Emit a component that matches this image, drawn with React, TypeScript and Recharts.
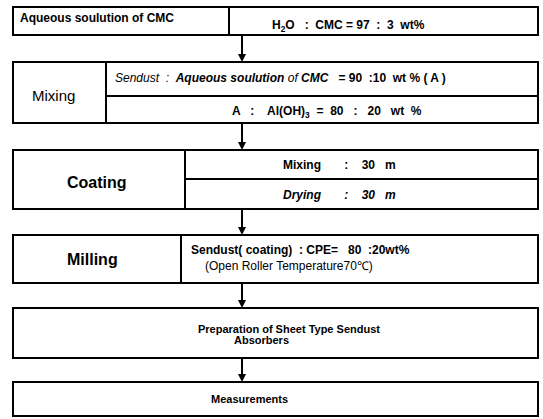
import React from "react";
import {
  ComposedChart,
  XAxis,
  YAxis,
  Scatter,
  ReferenceArea,
  ReferenceLine,
  ReferenceDot,
} from "recharts";

// Flow-chart boxes (in picture units: x 0..543, y 0..419 from top)
const BOXES = [
  { id: "cmc", x1: 13, x2: 538, y1: 7, y2: 35 },
  { id: "mixing", x1: 13, x2: 538, y1: 62, y2: 123 },
  { id: "coating", x1: 13, x2: 538, y1: 150, y2: 209 },
  { id: "milling", x1: 13, x2: 538, y1: 235, y2: 283 },
  { id: "prep", x1: 13, x2: 538, y1: 308, y2: 358 },
  { id: "meas", x1: 13, x2: 538, y1: 382, y2: 416 },
];

const DIVIDERS = [
  { x1: 229, x2: 229, y1: 7, y2: 35 },
  { x1: 106, x2: 106, y1: 62, y2: 123 },
  { x1: 106, x2: 538, y1: 96, y2: 96 },
  { x1: 185, x2: 185, y1: 150, y2: 209 },
  { x1: 185, x2: 538, y1: 179, y2: 179 },
  { x1: 181, x2: 181, y1: 235, y2: 283 },
];

const ARROWS = [
  { x: 242, y1: 35, y2: 62 },
  { x: 242, y1: 123, y2: 150 },
  { x: 242, y1: 209, y2: 235 },
  { x: 242, y1: 283, y2: 308 },
  { x: 242, y1: 358, y2: 382 },
];

type Part = { t: string; sub?: boolean; italic?: boolean; bold?: boolean };
type Lbl = { x: number; y: number; size: number; bold?: boolean; parts: Part[] };

const LABELS: Lbl[] = [
  { x: 20, y: 22, size: 12, bold: true, parts: [{ t: "Aqueous soulution of CMC" }] },
  {
    x: 272, y: 29, size: 12, bold: true,
    parts: [{ t: "H" }, { t: "2", sub: true }, { t: "O   :  CMC = 97  :  3  wt%" }],
  },
  { x: 32, y: 101, size: 15, parts: [{ t: "Mixing" }] },
  {
    x: 115, y: 82, size: 12, bold: true,
    parts: [
      { t: "Sendust  :  ", italic: true, bold: false },
      { t: "Aqueous soulution ", italic: true },
      { t: "of ", italic: true, bold: false },
      { t: "CMC", italic: true },
      { t: "   = 90  :10  wt % ( A )" },
    ],
  },
  {
    x: 232, y: 115, size: 12, bold: true,
    parts: [{ t: "A   :    Al(OH)" }, { t: "3", sub: true }, { t: "  =  80   :   20   wt  %" }],
  },
  { x: 67, y: 188, size: 16, bold: true, parts: [{ t: "Coating" }] },
  { x: 283, y: 169, size: 12, bold: true, parts: [{ t: "Mixing       :    30   m" }] },
  { x: 283, y: 199, size: 12, bold: true, parts: [{ t: "Drying       :    30   m", italic: true }] },
  { x: 67, y: 265, size: 16, bold: true, parts: [{ t: "Milling" }] },
  { x: 191, y: 254, size: 12, bold: true, parts: [{ t: "Sendust( coating)  : CPE=   80  :20wt%" }] },
  { x: 205, y: 270, size: 12, parts: [{ t: "(Open Roller Temperature70\u2103)" }] },
  { x: 198, y: 333, size: 11, bold: true, parts: [{ t: "Preparation of Sheet Type Sendust" }] },
  { x: 234, y: 344, size: 11, bold: true, parts: [{ t: "Absorbers" }] },
  { x: 211, y: 403, size: 11, bold: true, parts: [{ t: "Measurements" }] },
];

const FONT = "'Liberation Sans', Arial, sans-serif";

const renderLabel = (props: any) => {
  const { cx, cy, payload } = props;
  const lbl: Lbl = payload;
  let shifted = false;
  const spans: React.ReactNode[] = [];
  lbl.parts.forEach((p, i) => {
    let dy: number | undefined = undefined;
    if (p.sub && !shifted) {
      dy = 3;
      shifted = true;
    } else if (!p.sub && shifted) {
      dy = -3;
      shifted = false;
    }
    const weight = p.bold === undefined ? (lbl.bold ? "bold" : "normal") : p.bold ? "bold" : "normal";
    spans.push(
      <tspan
        key={i}
        dy={dy}
        fontSize={p.sub ? lbl.size * 0.7 : lbl.size}
        fontStyle={p.italic ? "italic" : "normal"}
        fontWeight={weight}
      >
        {p.t}
      </tspan>
    );
  });
  return (
    <text
      x={cx}
      y={cy}
      fontFamily={FONT}
      fontSize={lbl.size}
      fill="#000"
      style={{ whiteSpace: "pre" }}
    >
      {spans}
    </text>
  );
};

const arrowHead = (props: any) => {
  const { cx, cy } = props;
  return <polygon points={`${cx - 4},${cy - 8} ${cx + 4},${cy - 8} ${cx},${cy}`} fill="#000" />;
};

export default function App() {
  return (
    <div style={{ position: "absolute", left: 0, top: 0, width: 543, height: 419, background: "#fff" }}>
      <ComposedChart width={543} height={419} margin={{ top: 0, right: 0, bottom: 0, left: 0 }}>
        <XAxis type="number" dataKey="x" domain={[0, 543]} hide allowDataOverflow />
        <YAxis type="number" dataKey="y" domain={[0, 419]} reversed hide allowDataOverflow />
        {BOXES.map((b) => (
          <ReferenceArea
            key={b.id}
            x1={b.x1}
            x2={b.x2}
            y1={b.y1}
            y2={b.y2}
            fill="none"
            fillOpacity={0}
            stroke="#000"
            strokeWidth={2}
            strokeOpacity={1}
          />
        ))}
        {DIVIDERS.map((d, i) => (
          <ReferenceLine
            key={"d" + i}
            segment={[
              { x: d.x1, y: d.y1 },
              { x: d.x2, y: d.y2 },
            ]}
            stroke="#000"
            strokeWidth={2}
          />
        ))}
        {ARROWS.map((a, i) => (
          <ReferenceLine
            key={"a" + i}
            segment={[
              { x: a.x, y: a.y1 },
              { x: a.x, y: a.y2 - 4 },
            ]}
            stroke="#000"
            strokeWidth={2}
          />
        ))}
        {ARROWS.map((a, i) => (
          <ReferenceDot key={"h" + i} x={a.x} y={a.y2} r={4} shape={arrowHead} />
        ))}
        <Scatter data={LABELS} dataKey="y" shape={renderLabel} isAnimationActive={false} />
      </ComposedChart>
    </div>
  );
}
